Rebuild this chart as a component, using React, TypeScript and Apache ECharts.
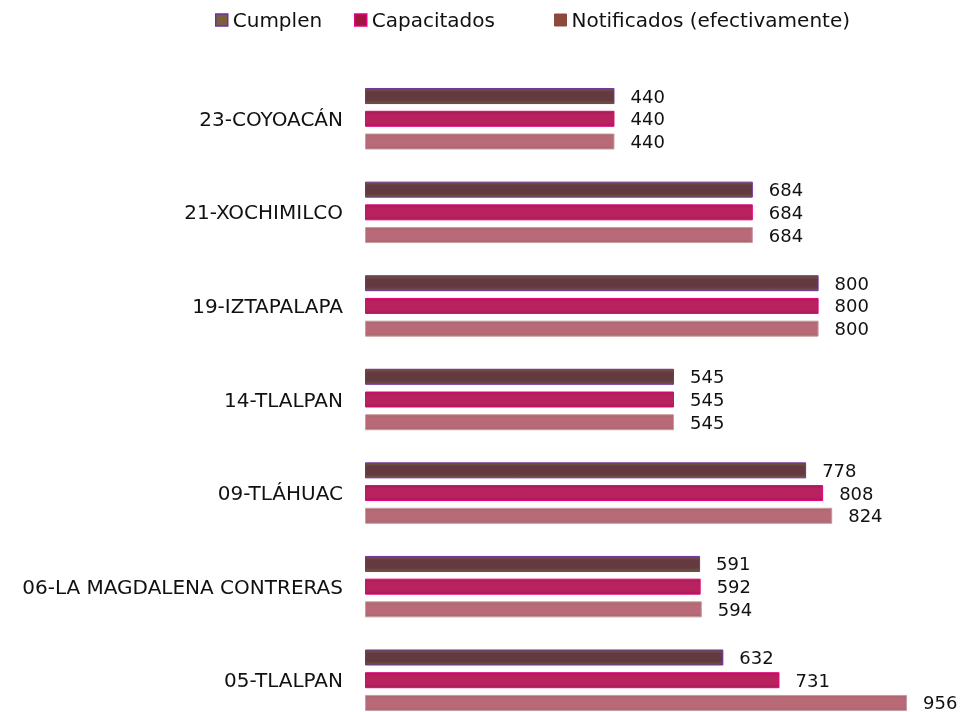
import React, { useEffect, useRef } from "react";
import * as echarts from "echarts";

const categories = [
  "05-TLALPAN",
  "06-LA MAGDALENA CONTRERAS",
  "09-TLÁHUAC",
  "14-TLALPAN",
  "19-IZTAPALAPA",
  "21-XOCHIMILCO",
  "23-COYOACÁN",
];
const cumplen = [632, 591, 778, 545, 800, 684, 440];
const capacitados = [731, 592, 808, 545, 800, 684, 440];
const notificados = [956, 594, 824, 545, 800, 684, 440];
const seriesNames = ["Cumplen", "Capacitados", "Notificados (efectivamente)"];
const legendLefts = [207, 346, 546];

const FONT = "DejaVu Sans";

function grad(edge: string, center: string) {
  return new echarts.graphic.LinearGradient(0, 0, 0, 1, [
    { offset: 0, color: edge },
    { offset: 0.25, color: center },
    { offset: 0.75, color: center },
    { offset: 1, color: edge },
  ]);
}

export default function App() {
  const ref = useRef<HTMLDivElement>(null);
  useEffect(() => {
    if (!ref.current) return;
    const chart = echarts.init(ref.current, null, { renderer: "svg" });
    const label = {
      show: true,
      position: "right" as const,
      distance: 16,
      fontSize: 18,
      color: "#111",
      fontFamily: FONT,
    };
    const styles = [
      { color: grad("#73553f", "#633a3f"), borderColor: "#7030a0", borderWidth: 1 },
      { color: grad("#a81a55", "#b8235f"), borderColor: "#e6007e", borderWidth: 1 },
      { color: grad("#a8686a", "#b86a78"), borderColor: "#c99aa0", borderWidth: 1 },
    ];
    const legendIcons = [
      { color: "#7b6040", borderColor: "#7030a0", borderWidth: 1.5 },
      { color: "#a0173f", borderColor: "#e6007e", borderWidth: 1.5 },
      { color: "#8b4a3a", borderColor: "#8b4a3a", borderWidth: 1 },
    ];
    const datas = [cumplen, capacitados, notificados];
    chart.setOption({
      animation: false,
      legend: seriesNames.map((n, i) => ({
        top: 2,
        left: legendLefts[i],
        padding: 0,
        itemWidth: 12,
        itemHeight: 12,
        icon: "rect",
        textStyle: { fontSize: 20, color: "#111", fontFamily: FONT },
        data: [{ name: n, itemStyle: legendIcons[i] }],
      })),
      grid: { left: 357, right: 30, top: 64, height: 655, containLabel: false },
      xAxis: { type: "value", min: 0, max: 1000, show: false },
      yAxis: {
        type: "category",
        data: categories,
        axisLine: { show: false },
        axisTick: { show: false },
        axisLabel: { fontSize: 20, color: "#111", fontFamily: FONT, margin: 22 },
      },
      series: [0, 1, 2].map((i) => ({
        name: seriesNames[i],
        type: "bar",
        data: datas[i],
        barWidth: 16,
        barGap: "42%",
        itemStyle: styles[i],
        label,
      })),
    });
    return () => chart.dispose();
  }, []);
  return (
    <div
      style={{
        position: "fixed",
        left: 8,
        top: 8,
        width: 954,
        height: 704,
        overflow: "hidden",
      }}
    >
      <div ref={ref} style={{ width: 954, height: 780 }} />
    </div>
  );
}
